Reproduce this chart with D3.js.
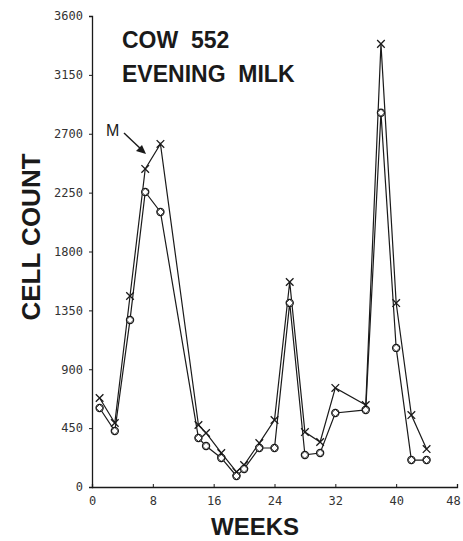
<!DOCTYPE html>
<html><head><meta charset="utf-8">
<script src="https://cdn.jsdelivr.net/npm/d3@7"></script>
<style>body{margin:0;background:#fff}svg{display:block}</style>
</head><body>
<script>
const weeks   = [1, 3, 5, 7, 9, 14, 15, 17, 19, 20, 22, 24, 26, 28, 30, 32, 36, 38, 40, 42, 44];
const crossM  = [680, 489, 1460, 2431, 2622, 474, 413, 260, 115, 168, 336, 512, 1567, 420, 344, 757, 627, 3387, 1406, 550, 290];
const circleS = [604, 428, 1277, 2255, 2102, 375, 313, 222, 84, 138, 298, 298, 1407, 245, 260, 566, 589, 2860, 1063, 206, 206];
const xTicks = [0, 8, 16, 24, 32, 40, 48];
const yTicks = [0, 450, 900, 1350, 1800, 2250, 2700, 3150, 3600];
const titleLines = ["COW  552", "EVENING  MILK"];

const W = 463, H = 541;
const svg = d3.select("body").append("svg").attr("width", W).attr("height", H);
const x = d3.scaleLinear().domain([0, 48]).range([92, 457]);
const y = d3.scaleLinear().domain([0, 3600]).range([487, 16]);
const ink = "#1a1a1a";

const xAxis = svg.append("g").attr("transform", "translate(0,487)")
  .call(d3.axisBottom(x).tickValues(xTicks).tickSize(-3).tickPadding(7).tickFormat(d3.format("d")));
const yAxis = svg.append("g").attr("transform", "translate(92,0)")
  .call(d3.axisLeft(y).tickValues(yTicks).tickSize(3).tickPadding(6).tickFormat(d3.format("d")));
[xAxis, yAxis].forEach(g => {
  g.select(".domain").attr("stroke", ink).attr("stroke-width", 1.3);
  g.selectAll(".tick line").attr("stroke", ink);
  g.selectAll(".tick text").attr("fill", "#333").style("font-family", "'DejaVu Sans Mono', monospace")
   .style("font-size", "12px");
});
xAxis.selectAll(".tick text").attr("dy", "0.9em").attr("dx", d => d === 48 ? -4 : 0);

const line = d3.line().x((d, i) => x(weeks[i])).y(d => y(d));
svg.append("path").datum(crossM).attr("d", line).attr("fill", "none").attr("stroke", ink).attr("stroke-width", 1.2);
svg.append("path").datum(circleS).attr("d", line).attr("fill", "none").attr("stroke", ink).attr("stroke-width", 1.2);

svg.append("g").selectAll("path").data(crossM).join("path")
  .attr("d", (d, i) => { const cx = x(weeks[i]), cy = y(d), s = 3.8;
    return `M${cx-s},${cy-s}L${cx+s},${cy+s}M${cx-s},${cy+s}L${cx+s},${cy-s}`; })
  .attr("stroke", ink).attr("stroke-width", 1.3);
const cg = svg.append("g").selectAll("g").data(circleS).join("g")
  .attr("transform", (d, i) => `translate(${x(weeks[i])},${y(d)})`);
cg.append("circle").attr("r", 3.6).attr("fill", "#fff").attr("stroke", ink).attr("stroke-width", 1.2);
cg.append("path").attr("d", "M0,-3.6L3.6,0L0,3.6L-3.6,0Z").attr("fill", "none").attr("stroke", ink).attr("stroke-width", 0.8);

const tf = "'Liberation Sans', 'DejaVu Sans', sans-serif";
svg.append("g").selectAll("text").data(titleLines).join("text")
  .attr("x", 122).attr("y", (d, i) => 48 + i * 34)
  .attr("xml:space", "preserve")
  .style("font-family", tf).style("font-size", "23px").style("font-weight", "600")
  .attr("fill", ink).text(d => d);

svg.append("text").attr("transform", "translate(40,237) rotate(-90)").attr("text-anchor", "middle")
  .style("font-family", tf).style("font-size", "26px").style("font-weight", "bold")
  .attr("fill", ink).text("CELL COUNT");
svg.append("text").attr("x", 255).attr("y", 535).attr("text-anchor", "middle")
  .style("font-family", tf).style("font-size", "24px").style("font-weight", "bold")
  .attr("fill", ink).text("WEEKS");

svg.append("text").attr("x", 106).attr("y", 136).style("font-family", tf).style("font-size", "16px")
  .attr("fill", ink).text("M");
svg.append("line").attr("x1", 124).attr("y1", 133).attr("x2", 143).attr("y2", 151)
  .attr("stroke", ink).attr("stroke-width", 1.4);
svg.append("path").attr("d", "M146,154 L136,151 L142,145 Z").attr("fill", ink);
</script>
</body></html>
